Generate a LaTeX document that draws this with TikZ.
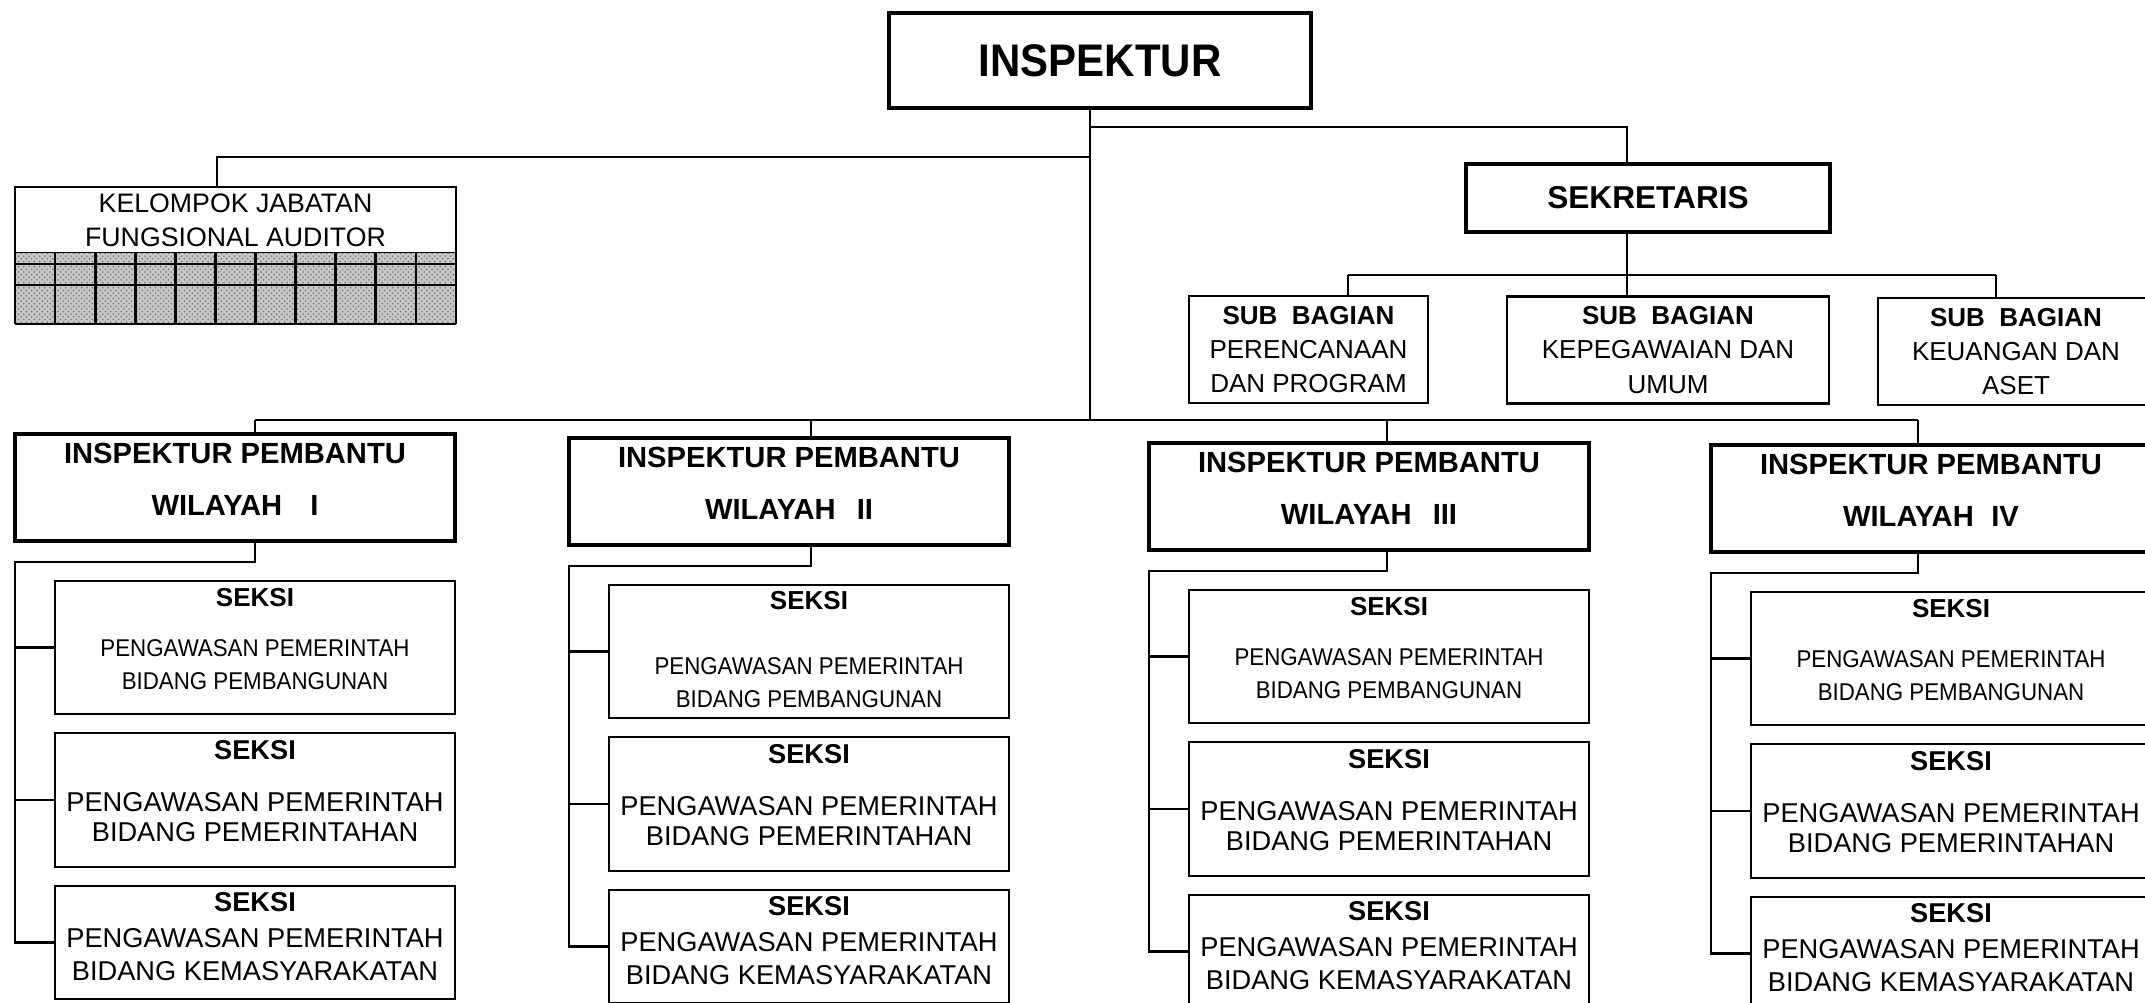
\documentclass[tikz,border=0pt]{standalone}
\usepackage{fontspec}
\setmainfont{Liberation Sans}
\newfontfamily\condensed[FakeStretch=0.92]{Liberation Sans}
\usetikzlibrary{positioning, patterns}

\begin{document}
\begin{tikzpicture}[x=0.02cm, y=-0.02cm,
    every node/.style={inner sep=0pt, align=center},
    bigbox/.style={draw, line width=2.6pt},
    smallbox/.style={draw, line width=1.5pt},
    link/.style={line width=1.2pt},
    headbox/.style={bigbox, minimum width=8.8cm, minimum height=2.14cm,
        text depth=0.33cm, font=\bfseries\fontsize{16.6}{30}\selectfont},
    sekA/.style={smallbox, minimum width=8cm, minimum height=2.66cm,
        font=\condensed\fontsize{13.8}{18.8}\selectfont},
    sekB/.style={smallbox, minimum width=8cm, minimum height=2.68cm,
        text depth=0.36cm, font=\fontsize{15.5}{17.6}\selectfont},
    sekC/.style={smallbox, minimum width=8cm, minimum height=2.26cm,
        text depth=0.24cm, font=\fontsize{15.5}{18.8}\selectfont},
    subbox/.style={smallbox, line width=1.6pt, minimum height=2.14cm,
        font=\fontsize{14.8}{19.6}\selectfont}]
    \path[use as bounding box, fill=white] (0,0) rectangle (2145,1002);

    % top of the chart
    \node[bigbox, minimum width=8.44cm, minimum height=1.9cm,
        font=\condensed\bfseries\fontsize{26}{30}\selectfont] (insp) at (1100,60.5) {INSPEKTUR};
    \node[bigbox, minimum width=7.28cm, minimum height=1.36cm,
        font=\bfseries\fontsize{18}{22}\selectfont] (sek) at (1648,198) {SEKRETARIS};
    \node[smallbox, line width=1.6pt, minimum width=8.82cm, minimum height=1.32cm,
        font=\fontsize{15.2}{19.4}\selectfont] (kel) at (235.5,220) {KELOMPOK JABATAN\\FUNGSIONAL AUDITOR};

    % auditor grid
    \fill[black!22] (15,253) rectangle (456,324);
    \fill[pattern=crosshatch dots, pattern color=black!55] (15,253) rectangle (456,324);
    \foreach \k in {0,...,11}
        \draw[line width=1.6pt] ({15+\k*40.09},253) -- ({15+\k*40.09},324);
    \foreach \r in {264,285,324}
        \draw[line width=1.6pt] (15,\r) -- (456,\r);

    % sub bagian
    \node[subbox, minimum width=4.78cm] (sub1) at (1308.5,349.5)
        {{\bfseries SUB\ \ BAGIAN}\\PERENCANAAN\\DAN PROGRAM};
    \node[subbox, minimum width=6.44cm] (sub2) at (1668,350)
        {{\bfseries SUB\ \ BAGIAN}\\KEPEGAWAIAN DAN\\UMUM};
    \node[subbox, minimum width=5.52cm] (sub3) at (2016,351.5)
        {{\bfseries SUB\ \ BAGIAN}\\KEUANGAN DAN\\ASET};

    \coordinate (t0) at (1090,420);
    \coordinate (kb) at (217,157);
    \coordinate (sb) at (1627,127);
    \coordinate (sj1) at (1348,275);
    \coordinate (sj2) at (1627,275);
    \coordinate (sj3) at (1996,275);

    \draw[link] (insp.south -| t0) -- (t0);
    \draw[link] (t0 |- kb) -- (kb) -- (kb |- kel.north);
    \draw[link] (t0 |- sb) -- (sb) -- (sb |- sek.north);
    \draw[link] (sek.south -| sj2) -- (sj2);
    \draw[link] (sj1) -- (sj3);
    \foreach \j in {1,2,3}
        \draw[link] (sj\j) -- (sj\j |- sub\j.north);

    % inspektur pembantu columns
    \foreach \i/\bx/\cx/\dy/\wil/\gp/\ga/\td in
        {1/15/255/-9/I/16pt/9.7pt/0.34cm,
         2/569/811/-5/II/12pt/18.2pt/0.1cm,
         3/1149/1387/0/III/12pt/9.7pt/0.34cm,
         4/1711/1918/2/IV/10pt/9.7pt/0.34cm}{
        \node[headbox] (ip\i) at ({\bx+220},{496.5+(\dy)})
            {INSPEKTUR PEMBANTU\\WILAYAH\hspace{\gp}\wil};
        \node[sekA, text depth=\td] (s\i1) at ({\bx+240},{656.5+(\dy)})
            {{\rmfamily\bfseries\fontsize{14.8}{18}\selectfont SEKSI}\\[\ga]PENGAWASAN PEMERINTAH\\BIDANG PEMBANGUNAN};
        \node[sekB] (s\i2) at ({\bx+240},{809+(\dy)})
            {{\bfseries SEKSI}\\[12pt]PENGAWASAN PEMERINTAH\\BIDANG PEMERINTAHAN};
        \node[sekC] (s\i3) at ({\bx+240},{951.5+(\dy)})
            {{\bfseries SEKSI}\\[2.2pt]PENGAWASAN PEMERINTAH\\BIDANG KEMASYARAKATAN};
        \coordinate (h\i) at (\cx,420);
        \coordinate (b\i) at (\cx,{571+(\dy)});
        \coordinate (l\i) at (\bx,{571+(\dy)});
        \draw[link] (h\i) -- (h\i |- ip\i.north);
        \draw[link] (ip\i.south -| b\i) -- (b\i) -- (l\i) |- (s\i3.west);
        \draw[link] (l\i |- s\i1.west) -- (s\i1.west);
        \draw[link] (l\i |- s\i2.west) -- (s\i2.west);
    }
    \draw[link] (h1) -- (h4);
\end{tikzpicture}
\end{document}
